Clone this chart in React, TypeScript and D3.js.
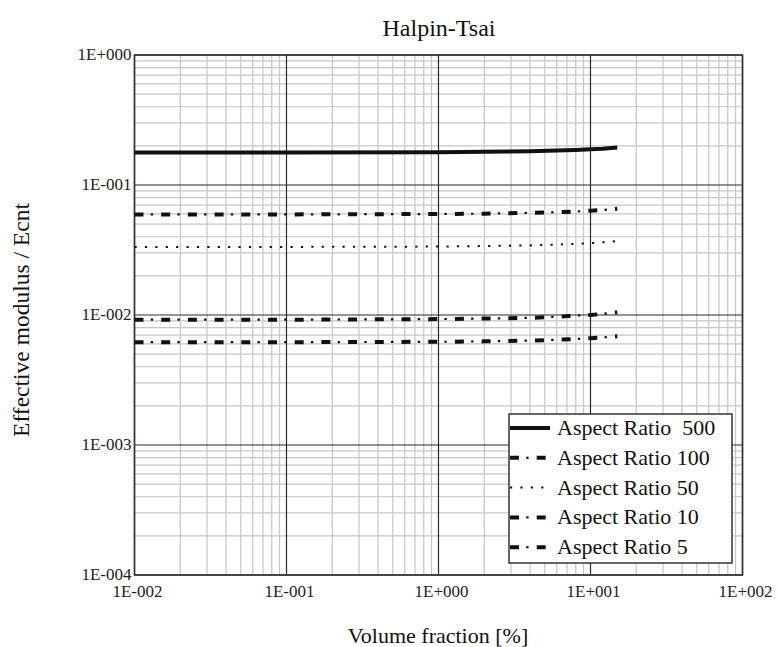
import * as d3 from "d3";

const W = 778;
const H = 647;
const margin = { left: 134.5, right: 35.5, top: 55, bottom: 70 };

// volume fraction [%]
const volumeFraction = [0.01, 0.1, 1, 2, 4, 6, 8, 10, 12, 15];

// effective modulus / Ecnt
const ar500 = [0.178, 0.178, 0.179, 0.18, 0.182, 0.184, 0.186, 0.188, 0.19, 0.194];
const ar100 = [0.0594, 0.0594, 0.0598, 0.0602, 0.061, 0.0618, 0.0626, 0.0634, 0.0642, 0.0657];
const ar50 = [0.0334, 0.0334, 0.0336, 0.0339, 0.0343, 0.0348, 0.0353, 0.0357, 0.0362, 0.0371];
const ar10 = [0.0092, 0.0092, 0.0093, 0.0094, 0.0095, 0.0097, 0.0099, 0.01, 0.0102, 0.0105];
const ar5 = [0.00618, 0.00618, 0.00622, 0.00627, 0.00636, 0.00645, 0.00654, 0.00663, 0.00672, 0.00687];

const seriesNames = ["Aspect Ratio  500", "Aspect Ratio 100", "Aspect Ratio 50", "Aspect Ratio 10", "Aspect Ratio 5"];
const seriesStyles = ["solid", "dashdot", "dot", "dashdot", "dashdot"];
const seriesValues = [ar500, ar100, ar50, ar10, ar5];

const xTicks = [0.01, 0.1, 1, 10, 100];
const xTickLabels = ["1E-002", "1E-001", "1E+000", "1E+001", "1E+002"];
const yTicks = [1, 0.1, 0.01, 0.001, 0.0001];
const yTickLabels = ["1E+000", "1E-001", "1E-002", "1E-003", "1E-004"];

const FONT = '"Liberation Serif", "DejaVu Serif", "Times New Roman", serif';

function StyledPath({ d, style }: { d: string; style: string }) {
  if (style === "solid") {
    return <path d={d} fill="none" stroke="#111" strokeWidth={4} />;
  }
  if (style === "dot") {
    return <path d={d} fill="none" stroke="#111" strokeWidth={2} strokeDasharray="2.2 8.2" />;
  }
  return (
    <g>
      <path d={d} fill="none" stroke="#111" strokeWidth={4} strokeDasharray="9 17.7" />
      <path d={d} fill="none" stroke="#111" strokeWidth={2.2} strokeDasharray="2.4 24.3" strokeDashoffset={-16.2} />
    </g>
  );
}

export default function App() {
  const x = d3.scaleLog().domain([0.01, 100]).range([margin.left, W - margin.right]);
  const y = d3.scaleLog().domain([0.0001, 1]).range([H - margin.bottom - 2, margin.top]);
  const [x0, x1] = x.range();
  const [yb, yt] = y.range();

  const minorX: number[] = [];
  for (let e = -2; e < 2; e++) for (let k = 2; k <= 9; k++) minorX.push(k * Math.pow(10, e));
  const minorY: number[] = [];
  for (let e = -4; e < 0; e++) for (let k = 2; k <= 9; k++) minorY.push(k * Math.pow(10, e));

  const line = d3
    .line<number>()
    .x((_, i) => x(volumeFraction[i]))
    .y((v) => y(v));

  const legend = { x: 509, y: 414, w: 223, h: 149, row: 29.8 };

  return (
    <svg width={W} height={H} style={{ position: "absolute", left: 0, top: 0, background: "#fff", fontFamily: FONT }}>
      <text x={439} y={36} fontSize={24} textAnchor="middle" fill="#111">
        Halpin-Tsai
      </text>

      {/* minor grid */}
      {minorX.map((v) => (
        <line key={"mx" + v} x1={x(v)} x2={x(v)} y1={yt} y2={yb} stroke="#c6c6c6" strokeWidth={1.2} />
      ))}
      {minorY.map((v) => (
        <line key={"my" + v} x1={x0} x2={x1} y1={y(v)} y2={y(v)} stroke="#c6c6c6" strokeWidth={1.2} />
      ))}
      {/* major grid */}
      {xTicks.map((v) => (
        <line key={"Mx" + v} x1={x(v)} x2={x(v)} y1={yt} y2={yb} stroke="#2a2a2a" strokeWidth={1.2} />
      ))}
      {yTicks.map((v) => (
        <line key={"My" + v} x1={x0} x2={x1} y1={y(v)} y2={y(v)} stroke="#2a2a2a" strokeWidth={1.2} />
      ))}
      <rect x={x0} y={yt} width={x1 - x0} height={yb - yt} fill="none" stroke="#333" strokeWidth={1.6} />

      {/* series */}
      {seriesValues.map((vals, i) => (
        <StyledPath key={i} d={line(vals) || ""} style={seriesStyles[i]} />
      ))}

      {/* tick labels */}
      {yTicks.map((v, i) => (
        <text key={"yl" + v} x={x0 - 3} y={y(v) + 5} fontSize={17} textAnchor="end" fill="#222">
          {yTickLabels[i]}
        </text>
      ))}
      {xTicks.map((v, i) => (
        <text key={"xl" + v} x={x(v) + 3} y={yb + 22} fontSize={17} textAnchor="middle" fill="#222">
          {xTickLabels[i]}
        </text>
      ))}

      {/* axis titles */}
      <text x={438} y={643} fontSize={22} textAnchor="middle" fill="#111">
        Volume fraction [%]
      </text>
      <text transform={`translate(29,320) rotate(-90)`} fontSize={23.5} textAnchor="middle" fill="#111">
        Effective modulus / Ecnt
      </text>

      {/* legend */}
      <rect x={legend.x} y={legend.y} width={legend.w} height={legend.h} fill="#fff" stroke="#333" strokeWidth={1.5} />
      {seriesNames.map((name, i) => {
        const cy = legend.y + 14 + i * legend.row;
        return (
          <g key={name}>
            <StyledPath d={`M${legend.x + 1},${cy}L${legend.x + 41},${cy}`} style={seriesStyles[i]} />
            <text x={legend.x + 48} y={cy + 7} fontSize={22} fill="#111" style={{ whiteSpace: "pre" }}>
              {name}
            </text>
          </g>
        );
      })}
    </svg>
  );
}
